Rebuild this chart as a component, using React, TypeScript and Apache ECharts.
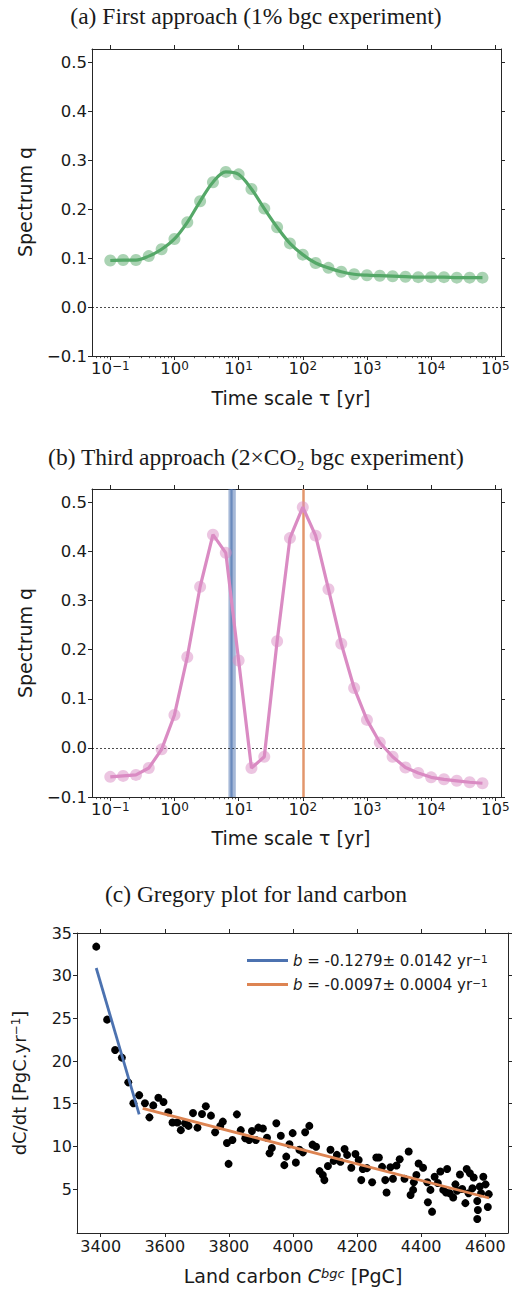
import React, { useEffect, useRef } from "react";
import * as echarts from "echarts";

// ---------- data ----------
const LOG_TAU = [
  -1.0, -0.8, -0.6, -0.4, -0.2, 0.0, 0.2, 0.4, 0.6, 0.8, 1.0, 1.2, 1.4, 1.6, 1.8,
  2.0, 2.2, 2.4, 2.6, 2.8, 3.0, 3.2, 3.4, 3.6, 3.8, 4.0, 4.2, 4.4, 4.6, 4.8,
];
const SPECTRUM_A = [
  0.095, 0.096, 0.096, 0.104, 0.118, 0.139, 0.173, 0.216, 0.255, 0.276, 0.271, 0.241,
  0.201, 0.163, 0.13, 0.107, 0.09, 0.08, 0.072, 0.067, 0.065, 0.064, 0.063, 0.062,
  0.061, 0.061, 0.061, 0.06, 0.06, 0.06,
];
const SPECTRUM_B = [
  -0.059, -0.057, -0.055, -0.041, -0.003, 0.067, 0.185, 0.328, 0.434, 0.397, 0.178,
  -0.041, -0.018, 0.217, 0.427, 0.49, 0.432, 0.323, 0.212, 0.122, 0.057, 0.011,
  -0.018, -0.04, -0.051, -0.06, -0.064, -0.067, -0.07, -0.072,
];
// vertical markers in panel (b), log10(tau)
const BLUE_BAND = [0.841, 0.956];
const BLUE_LINES = [0.875, 0.9];
const ORANGE_LINE = [2.012];

const LOG_MAJOR = [-1, 0, 1, 2, 3, 4, 5];
const Q_TICKS = [-0.1, 0.0, 0.1, 0.2, 0.3, 0.4, 0.5];

// panel (c): land carbon [PgC] vs dC/dt
const LAND_C = [
  3386, 3420, 3445, 3466, 3486, 3502, 3520, 3538, 3552, 3564, 3580, 3596, 3611, 3624,
  3639, 3650, 3663, 3674, 3688, 3702, 3716, 3728, 3744, 3757, 3773, 3781, 3794, 3799,
  3811, 3825, 3837, 3851, 3863, 3872, 3884, 3892, 3906, 3919, 3927, 3934, 3948, 3962,
  3973, 3979, 3989, 3999, 4009, 4020, 4031, 4038, 4051, 4061, 4072, 4083, 4093, 4098,
  4109, 4117, 4127, 4137, 4148, 4161, 4169, 4182, 4195, 4205, 4213, 4218, 4231, 4247,
  4260, 4268, 4278, 4288, 4292, 4304, 4312, 4323, 4333, 4348, 4361, 4367, 4375, 4377,
  4385, 4392, 4406, 4419, 4421, 4429, 4434, 4442, 4452, 4460, 4469, 4478, 4481, 4489,
  4500, 4507, 4512, 4521, 4528, 4538, 4542, 4548, 4552, 4560, 4564, 4575, 4577, 4575,
  4583, 4587, 4594, 4601, 4608, 4611,
];
const DCDT = [
  33.4, 24.85, 21.3, 20.4, 17.5, 15.05, 16.0, 15.05, 13.4, 14.8, 15.7, 15.2, 14.0, 12.8,
  12.8, 11.9, 12.7, 12.4, 13.9, 12.2, 13.8, 14.7, 13.6, 11.65, 12.4, 12.9, 10.4, 7.95,
  10.75, 13.75, 11.9, 10.95, 10.75, 11.8, 10.75, 12.2, 12.1, 11.0, 9.2, 9.8, 12.7, 11.25,
  7.8, 8.8, 10.25, 11.55, 8.1, 9.6, 9.3, 11.65, 12.4, 10.2, 9.95, 7.1, 6.65, 6.05,
  7.7, 9.6, 8.3, 9.0, 8.2, 9.7, 9.0, 7.5, 9.1, 8.4, 6.05, 7.35, 7.45, 5.8,
  8.7, 8.7, 7.6, 6.05, 4.6, 7.55, 6.2, 7.75, 8.5, 6.2, 9.4, 4.3, 4.9, 5.8,
  6.65, 8.0, 7.5, 5.8, 3.45, 4.9, 2.35, 6.45, 5.7, 7.05, 4.9, 4.6, 7.35, 4.5,
  4.0, 5.55, 4.8, 6.7, 5.0, 3.35, 7.35, 4.5, 6.85, 5.1, 6.35, 3.6, 2.55, 1.5,
  5.3, 4.5, 6.45, 5.55, 2.9, 4.4,
];
const FIT_BLUE_X = [3386, 3520];
const FIT_BLUE_Y = [30.9, 13.76];
const FIT_ORANGE_X = [3531, 4612];
const FIT_ORANGE_Y = [14.45, 3.95];
const C_X_TICKS = [3400, 3600, 3800, 4000, 4200, 4400, 4600];
const C_Y_TICKS = [5, 10, 15, 20, 25, 30, 35];
const LEGEND_NAMES = ["fitBlue", "fitOrange"];
const LEGEND_TEXT = [
  "{it|b} = -0.1279± 0.0142 yr{sup|−1}",
  "{it|b} = -0.0097± 0.0004 yr{sup|−1}",
];

// ---------- style ----------
const SANS = '"DejaVu Sans", sans-serif';
const SERIF = '"Liberation Serif", "DejaVu Serif", serif';
const AX = "#262626";
const TXT = "#1a1a1a";
const GREEN = "#55a868";
const PINK = "#da8bc3";
const BLUE = "#4c72b0";
const ORANGE = "#dd8452";

const LOG_MIN = -1.285;
const LOG_MAX = 5.089;
const Q_MIN = -0.1;
const Q_MAX = 0.527;
const C_XMIN = 3326;
const C_XMAX = 4671;
const C_YMIN = -0.15;
const C_YMAX = 35.0;

function minorLogTicks(): number[] {
  const out: number[] = [];
  for (let e = -2; e <= 5; e++) {
    for (let m = 2; m <= 9; m++) {
      const v = Math.log10(m) + e;
      if (v > LOG_MIN && v < LOG_MAX) out.push(v);
    }
  }
  return out;
}

const pairs = (xs: number[], ys: number[]) => xs.map((x, i) => [x, ys[i]]);
const fmtMinus = (s: string) => s.replace("-", "−");

function logAxes(gridIndex: number, tickFont: number) {
  return [
    {
      type: "value", gridIndex, min: LOG_MIN, max: LOG_MAX, position: "bottom",
      axisLine: { show: true, onZero: false, lineStyle: { color: AX, width: 1 } },
      axisTick: { show: true, length: 4, customValues: LOG_MAJOR, lineStyle: { color: AX, width: 1 } },
      axisLabel: {
        show: true, customValues: LOG_MAJOR, margin: 4,
        formatter: (v: number) => "10{sup|" + fmtMinus(String(Math.round(v))) + "}",
        fontFamily: SANS, fontSize: tickFont, color: TXT,
        rich: {
          sup: { fontFamily: SANS, fontSize: 12, color: TXT, verticalAlign: "top", lineHeight: 12 },
        },
      },
      splitLine: { show: false },
    },
    {
      type: "value", gridIndex, min: LOG_MIN, max: LOG_MAX, position: "bottom",
      axisLine: { show: false, onZero: false },
      axisTick: { show: true, length: 2.2, customValues: minorLogTicks(), lineStyle: { color: AX, width: 0.8 } },
      axisLabel: { show: false },
      splitLine: { show: false },
    },
    {
      type: "value", gridIndex, min: LOG_MIN, max: LOG_MAX, position: "top",
      axisLine: { show: true, onZero: false, lineStyle: { color: AX, width: 1 } },
      axisTick: { show: true, length: 4, customValues: LOG_MAJOR, lineStyle: { color: AX, width: 1 } },
      axisLabel: { show: false },
      splitLine: { show: false },
    },
  ];
}

function qAxes(gridIndex: number, tickFont: number) {
  return [
    {
      type: "value", gridIndex, min: Q_MIN, max: Q_MAX, position: "left",
      axisLine: { show: true, onZero: false, lineStyle: { color: AX, width: 1 } },
      axisTick: { show: true, length: 4, customValues: Q_TICKS, lineStyle: { color: AX, width: 1 } },
      axisLabel: {
        show: true, customValues: Q_TICKS, margin: 5,
        formatter: (v: number) => (v < -1e-9 ? "−" + Math.abs(v).toFixed(1) : Math.abs(v).toFixed(1)),
        fontFamily: SANS, fontSize: tickFont, color: TXT,
      },
      splitLine: { show: false },
    },
    {
      type: "value", gridIndex, min: Q_MIN, max: Q_MAX, position: "right",
      axisLine: { show: true, onZero: false, lineStyle: { color: AX, width: 1 } },
      axisTick: { show: true, length: 4, customValues: Q_TICKS, lineStyle: { color: AX, width: 1 } },
      axisLabel: { show: false },
      splitLine: { show: false },
    },
  ];
}

const zeroLine = {
  silent: true, symbol: ["none", "none"], z: 1,
  label: { show: false },
  lineStyle: { color: "#000", width: 0.7, type: [2, 2] },
  data: [{ yAxis: 0 }],
};

export default function App() {
  const ref = useRef<HTMLDivElement>(null);
  useEffect(() => {
    if (!ref.current) return;
    const chart = echarts.init(ref.current, null, { renderer: "svg" });
    const TICKF = 16.5;
    const NAMEF = 19;
    const TITLEF = 23.5;

    const option: any = {
      animation: false,
      backgroundColor: "#fff",
      grid: [
        { left: 92, top: 49, width: 409, height: 307, outerBoundsMode: "none" },
        { left: 92, top: 489, width: 409, height: 308, outerBoundsMode: "none" },
        { left: 77, top: 933, width: 431, height: 300, outerBoundsMode: "none" },
      ],
      xAxis: [
        ...logAxes(0, TICKF),
        ...logAxes(1, TICKF),
        {
          type: "value", gridIndex: 2, min: C_XMIN, max: C_XMAX, position: "bottom",
          axisLine: { show: true, onZero: false, lineStyle: { color: AX, width: 1 } },
          axisTick: { show: true, length: 4, customValues: C_X_TICKS, lineStyle: { color: AX } },
          axisLabel: {
            show: true, customValues: C_X_TICKS, margin: 5,
            formatter: (v: number) => String(v),
            fontFamily: SANS, fontSize: 16, color: TXT,
          },
          splitLine: { show: false },
        },
        {
          type: "value", gridIndex: 2, min: C_XMIN, max: C_XMAX, position: "top",
          axisLine: { show: true, onZero: false, lineStyle: { color: AX, width: 1 } },
          axisTick: { show: true, length: 4, customValues: C_X_TICKS, lineStyle: { color: AX } },
          axisLabel: { show: false },
          splitLine: { show: false },
        },
      ],
      yAxis: [
        ...qAxes(0, TICKF),
        ...qAxes(1, TICKF),
        {
          type: "value", gridIndex: 2, min: C_YMIN, max: C_YMAX, position: "left",
          axisLine: { show: true, onZero: false, lineStyle: { color: AX, width: 1 } },
          axisTick: { show: true, length: 4, customValues: C_Y_TICKS, lineStyle: { color: AX } },
          axisLabel: {
            show: true, customValues: C_Y_TICKS, margin: 5,
            formatter: (v: number) => String(v),
            fontFamily: SANS, fontSize: 16, color: TXT,
          },
          splitLine: { show: false },
        },
        {
          type: "value", gridIndex: 2, min: C_YMIN, max: C_YMAX, position: "right",
          axisLine: { show: true, onZero: false, lineStyle: { color: AX, width: 1 } },
          axisTick: { show: true, length: 4, customValues: C_Y_TICKS, lineStyle: { color: AX } },
          axisLabel: { show: false },
          splitLine: { show: false },
        },
      ],
      legend: {
        show: true, orient: "vertical", left: 242, top: 948,
        itemWidth: 41, itemHeight: 3, itemGap: 9, icon: "rect",
        selectedMode: false,
        data: LEGEND_NAMES,
        formatter: (name: string) => LEGEND_TEXT[LEGEND_NAMES.indexOf(name)],
        textStyle: {
          fontFamily: SANS, fontSize: 15, color: TXT,
          rich: {
            it: { fontFamily: SANS, fontSize: 15, fontStyle: "italic", color: TXT },
            sup: { fontFamily: SANS, fontSize: 10.5, color: TXT, verticalAlign: "top", lineHeight: 10 },
          },
        },
      },
      series: [
        // panel (a)
        {
          type: "scatter", xAxisIndex: 0, yAxisIndex: 0, z: 2,
          data: pairs(LOG_TAU, SPECTRUM_A), symbol: "circle", symbolSize: 12,
          itemStyle: { color: GREEN, opacity: 0.5 },
          markLine: zeroLine,
        },
        {
          type: "line", xAxisIndex: 0, yAxisIndex: 0, z: 3,
          data: pairs(LOG_TAU, SPECTRUM_A), smooth: 0.35, showSymbol: false,
          lineStyle: { color: GREEN, width: 3.2 }, itemStyle: { color: GREEN },
        },
        // panel (b)
        {
          type: "scatter", xAxisIndex: 3, yAxisIndex: 2, z: 2,
          data: pairs(LOG_TAU, SPECTRUM_B), symbol: "circle", symbolSize: 12,
          itemStyle: { color: PINK, opacity: 0.5 },
          markArea: {
            silent: true, z: 1,
            itemStyle: { color: BLUE, opacity: 0.5 },
            data: [[{ xAxis: BLUE_BAND[0] }, { xAxis: BLUE_BAND[1] }]],
          },
          markLine: {
            silent: true, symbol: ["none", "none"], z: 1,
            label: { show: false },
            data: [
              { yAxis: 0, lineStyle: { color: "#000", width: 0.7, type: [2, 2] } },
              ...BLUE_LINES.map((v) => ({ xAxis: v, lineStyle: { color: BLUE, width: 1.5, opacity: 0.55, type: "solid" } })),
              ...ORANGE_LINE.map((v) => ({ xAxis: v, lineStyle: { color: ORANGE, width: 2.5, opacity: 0.85, type: "solid" } })),
            ],
          },
        },
        {
          type: "line", xAxisIndex: 3, yAxisIndex: 2, z: 3,
          data: pairs(LOG_TAU, SPECTRUM_B), smooth: false, showSymbol: false,
          lineStyle: { color: PINK, width: 3.2 }, itemStyle: { color: PINK },
        },
        // panel (c)
        {
          type: "scatter", xAxisIndex: 6, yAxisIndex: 4, z: 2,
          data: pairs(LAND_C, DCDT), symbol: "circle", symbolSize: 8,
          itemStyle: { color: "#000", opacity: 1 },
        },
        {
          name: LEGEND_NAMES[0], type: "line", xAxisIndex: 6, yAxisIndex: 4, z: 3,
          data: pairs(FIT_BLUE_X, FIT_BLUE_Y), showSymbol: false, color: BLUE,
          lineStyle: { color: BLUE, width: 2.8 }, itemStyle: { color: BLUE },
        },
        {
          name: LEGEND_NAMES[1], type: "line", xAxisIndex: 6, yAxisIndex: 4, z: 3,
          data: pairs(FIT_ORANGE_X, FIT_ORANGE_Y), showSymbol: false, color: ORANGE,
          lineStyle: { color: ORANGE, width: 2.8 }, itemStyle: { color: ORANGE },
        },
      ],
      graphic: [
        { type: "text", x: 256, y: 16, style: { text: "(a) First approach (1% bgc experiment)", fontFamily: SERIF, fontSize: TITLEF, fill: TXT, align: "center", verticalAlign: "middle" } },
        { type: "text", x: 256, y: 457, style: { text: "(b) Third approach (2×CO₂ bgc experiment)", fontFamily: SERIF, fontSize: TITLEF, fill: TXT, align: "center", verticalAlign: "middle" } },
        { type: "text", x: 256, y: 894, style: { text: "(c) Gregory plot for land carbon", fontFamily: SERIF, fontSize: TITLEF, fill: TXT, align: "center", verticalAlign: "middle" } },
        { type: "text", x: 25, y: 202, rotation: Math.PI / 2, style: { text: "Spectrum q", fontFamily: SANS, fontSize: NAMEF, fill: TXT, align: "center", verticalAlign: "middle" } },
        { type: "text", x: 25, y: 643, rotation: Math.PI / 2, style: { text: "Spectrum q", fontFamily: SANS, fontSize: NAMEF, fill: TXT, align: "center", verticalAlign: "middle" } },
        { type: "text", x: 291, y: 398, style: { text: "Time scale τ [yr]", fontFamily: SANS, fontSize: NAMEF, fill: TXT, align: "center", verticalAlign: "middle" } },
        { type: "text", x: 291, y: 838, style: { text: "Time scale τ [yr]", fontFamily: SANS, fontSize: NAMEF, fill: TXT, align: "center", verticalAlign: "middle" } },
        {
          type: "text", x: 19, y: 1083, rotation: Math.PI / 2,
          style: {
            text: "dC/dt [PgC.yr{sup|−1}]", fontFamily: SANS, fontSize: 18, fill: TXT,
            align: "center", verticalAlign: "middle",
            rich: { sup: { fontFamily: SANS, fontSize: 12, fill: TXT, verticalAlign: "top", lineHeight: 12 } },
          },
        },
        {
          type: "text", x: 293, y: 1276,
          style: {
            text: "Land carbon {it|C}{sup|bgc} [PgC]", fontFamily: SANS, fontSize: 19, fill: TXT,
            align: "center", verticalAlign: "middle",
            rich: {
              it: { fontFamily: SANS, fontSize: 19, fontStyle: "italic", fill: TXT },
              sup: { fontFamily: SANS, fontSize: 13, fontStyle: "italic", fill: TXT, verticalAlign: "top", lineHeight: 13 },
            },
          },
        },
      ],
    };
    chart.setOption(option);
    return () => chart.dispose();
  }, []);
  return (
    <div
      ref={ref}
      style={{ position: "absolute", left: 0, top: 0, width: 512, height: 1291, background: "#fff" }}
    />
  );
}
